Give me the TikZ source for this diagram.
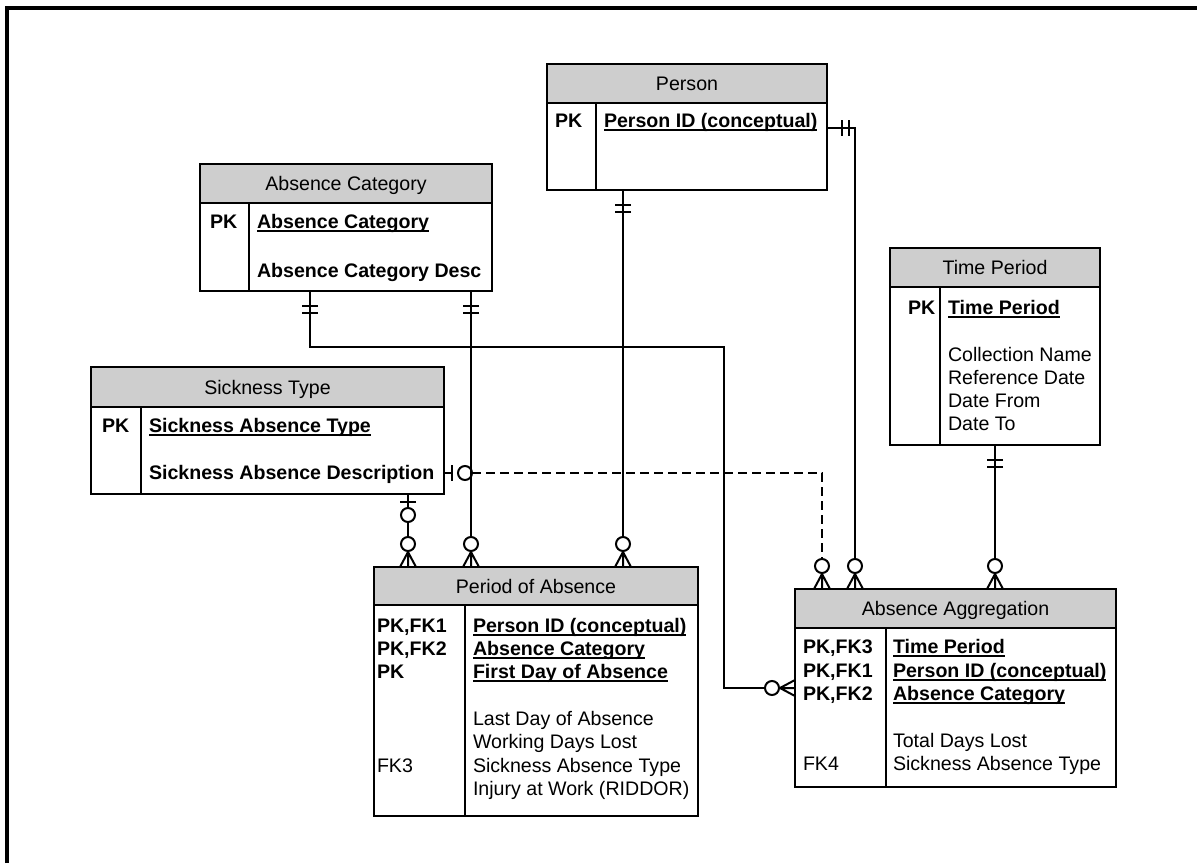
\documentclass[tikz,border=0pt]{standalone}
\usepackage{fontspec}
\setmainfont{Liberation Sans}
\definecolor{hdr}{RGB}{206,206,206}
% bold key field, underlined just below the baseline
\newcommand\keyfield[1]{\setbox0=\hbox{\bfseries #1}\rlap{\rule[-3.8pt]{\wd0}{1.8pt}}\box0}
% entity table: name, x1, y1, x2, y2, header bottom, column divider, title
\newcommand\ertable[8]{%
  \fill[hdr] (#2,#3) rectangle (#4,#6);
  \draw[boxline] (#2,#6) -- (#4,#6) (#7,#6) -- (#7,#5);
  \node[tbl,anchor=north west,minimum width={#4-#2},minimum height={#5-#3}] (#1) at (#2,#3) {};
  \node[title] (#1-title) at ({(#2+#4)/2},{(#3+#6)/2+7}) {#8};
}
\begin{document}
\begin{tikzpicture}[x=1pt,y=-1pt,
  every node/.style={inner sep=0pt,outer sep=0pt,font=\fontsize{19.6pt}{23.5pt}\selectfont},
  boxline/.style={line width=1.6pt},
  tbl/.style={draw,line width=1.6pt},
  title/.style={anchor=base},
  cell/.style={anchor=base west},
  conn/.style={line width=2pt},
  rel/.style={line width=2pt,dash pattern=on 9pt off 5pt},
  pics/erOne/.style={code={
    \draw[line width=2pt,solid] (-8,-15) -- (8,-15) (-8,-22) -- (8,-22);
  }},
  pics/erZeroOne/.style={code={
    \draw[line width=2pt,solid] (-8,-8) -- (8,-8);
    \draw[line width=2pt,solid,fill=white] (0,-21) circle[radius=7pt];
  }},
  pics/erZeroMany/.style={code={
    \draw[line width=2pt,solid] (-8,0) -- (0,-15) -- (8,0) (0,-15) -- (0,0);
    \draw[line width=2pt,solid,fill=white] (0,-23) circle[radius=7pt];
  }}]
\useasboundingbox (0,0) rectangle (1197,863);
\draw[line width=3.3pt] (7,863) -- (7,8) -- (1197,8);

% tables
\ertable{person}{547}{64}{827}{190}{103}{596}{Person}
\node[cell,font=\fontsize{19.6pt}{23.5pt}\selectfont\bfseries] (person-k1) at (555,127) {PK};
\node[cell] (person-f1) at (604,127) {\keyfield{Person ID (conceptual)}};

\ertable{abscat}{200}{164}{492}{291}{203}{249}{Absence Category}
\node[cell,font=\fontsize{19.6pt}{23.5pt}\selectfont\bfseries] (abscat-k1) at (210,228) {PK};
\node[cell] (abscat-f1) at (257,228) {\keyfield{Absence Category}};
\node[cell,font=\fontsize{19.6pt}{23.5pt}\selectfont\bfseries] (abscat-f2) at (257,277) {Absence Category Desc};

\ertable{sick}{91}{367}{444}{494}{407}{141}{Sickness Type}
\node[cell,font=\fontsize{19.6pt}{23.5pt}\selectfont\bfseries] (sick-k1) at (102,432) {PK};
\node[cell] (sick-f1) at (149,432) {\keyfield{Sickness Absence Type}};
\node[cell,font=\fontsize{19.6pt}{23.5pt}\selectfont\bfseries] (sick-f2) at (149,479) {Sickness Absence Description};

\ertable{time}{890}{248}{1100}{445}{287}{940}{Time Period}
\node[cell,font=\fontsize{19.6pt}{23.5pt}\selectfont\bfseries] (time-k1) at (908,314) {PK};
\node[cell] (time-f1) at (948,314) {\keyfield{Time Period}};
\node[cell] (time-f2) at (948,361) {Collection Name};
\node[cell] (time-f3) at (948,384) {Reference Date};
\node[cell] (time-f4) at (948,407) {Date From};
\node[cell] (time-f5) at (948,430) {Date To};

\ertable{period}{374}{567}{698}{816}{605}{465}{Period of Absence}
\node[cell,font=\fontsize{19.6pt}{23.5pt}\selectfont\bfseries] (period-k1) at (377,632) {PK,FK1};
\node[cell,font=\fontsize{19.6pt}{23.5pt}\selectfont\bfseries] (period-k2) at (377,655) {PK,FK2};
\node[cell,font=\fontsize{19.6pt}{23.5pt}\selectfont\bfseries] (period-k3) at (377,678) {PK};
\node[cell] (period-f1) at (473,632) {\keyfield{Person ID (conceptual)}};
\node[cell] (period-f2) at (473,655) {\keyfield{Absence Category}};
\node[cell] (period-f3) at (473,678) {\keyfield{First Day of Absence}};
\node[cell] (period-f4) at (473,725) {Last Day of Absence};
\node[cell] (period-f5) at (473,748) {Working Days Lost};
\node[cell] (period-k6) at (377,772) {FK3};
\node[cell] (period-f6) at (473,772) {Sickness Absence Type};
\node[cell] (period-f7) at (473,795) {Injury at Work (RIDDOR)};

\ertable{agg}{795}{589}{1116}{787}{628}{886}{Absence Aggregation}
\node[cell,font=\fontsize{19.6pt}{23.5pt}\selectfont\bfseries] (agg-k1) at (803,653) {PK,FK3};
\node[cell,font=\fontsize{19.6pt}{23.5pt}\selectfont\bfseries] (agg-k2) at (803,677) {PK,FK1};
\node[cell,font=\fontsize{19.6pt}{23.5pt}\selectfont\bfseries] (agg-k3) at (803,700) {PK,FK2};
\node[cell] (agg-f1) at (893,653) {\keyfield{Time Period}};
\node[cell] (agg-f2) at (893,677) {\keyfield{Person ID (conceptual)}};
\node[cell] (agg-f3) at (893,700) {\keyfield{Absence Category}};
\node[cell] (agg-f4) at (893,747) {Total Days Lost};
\node[cell] (agg-k5) at (803,770) {FK4};
\node[cell] (agg-f5) at (893,770) {Sickness Absence Type};

% connector guide lines
\coordinate (xPP) at (623,0);
\coordinate (xPA) at (855,0);
\coordinate (yPA) at (0,128);
\coordinate (xCP) at (471,0);
\coordinate (xCA) at (310,0);
\coordinate (yCA1) at (0,347);
\coordinate (xCA2) at (724,0);
\coordinate (yCA) at (0,688);
\coordinate (xSP) at (408,0);
\coordinate (ySA) at (0,473);
\coordinate (xSA) at (822,0);
\coordinate (xTA) at (995,0);

% Sickness Type -> Absence Aggregation (optional, dashed)
\draw[rel] (sick.east |- ySA) -| (agg.north -| xSA);
\pic[rotate=-90] at (sick.east |- ySA) {erZeroOne};
\pic at (agg.north -| xSA) {erZeroMany};

% Person -> Period of Absence
\draw[conn] (person.south -| xPP) -- (period.north -| xPP);
\pic[rotate=180] at (person.south -| xPP) {erOne};
\pic at (period.north -| xPP) {erZeroMany};

% Person -> Absence Aggregation
\draw[conn] (person.east |- yPA) -| (agg.north -| xPA);
\pic[rotate=-90] at (person.east |- yPA) {erOne};
\pic at (agg.north -| xPA) {erZeroMany};

% Absence Category -> Period of Absence
\draw[conn] (abscat.south -| xCP) -- (period.north -| xCP);
\pic[rotate=180] at (abscat.south -| xCP) {erOne};
\pic at (period.north -| xCP) {erZeroMany};

% Absence Category -> Absence Aggregation
\draw[conn] (abscat.south -| xCA) -- (xCA |- yCA1) -| (xCA2 |- yCA) -- (agg.west |- yCA);
\pic[rotate=180] at (abscat.south -| xCA) {erOne};
\pic[rotate=90] at (agg.west |- yCA) {erZeroMany};

% Sickness Type -> Period of Absence
\draw[conn] (sick.south -| xSP) -- (period.north -| xSP);
\pic[rotate=180] at (sick.south -| xSP) {erZeroOne};
\pic at (period.north -| xSP) {erZeroMany};

% Time Period -> Absence Aggregation
\draw[conn] (time.south -| xTA) -- (agg.north -| xTA);
\pic[rotate=180] at (time.south -| xTA) {erOne};
\pic at (agg.north -| xTA) {erZeroMany};
\end{tikzpicture}
\end{document}
